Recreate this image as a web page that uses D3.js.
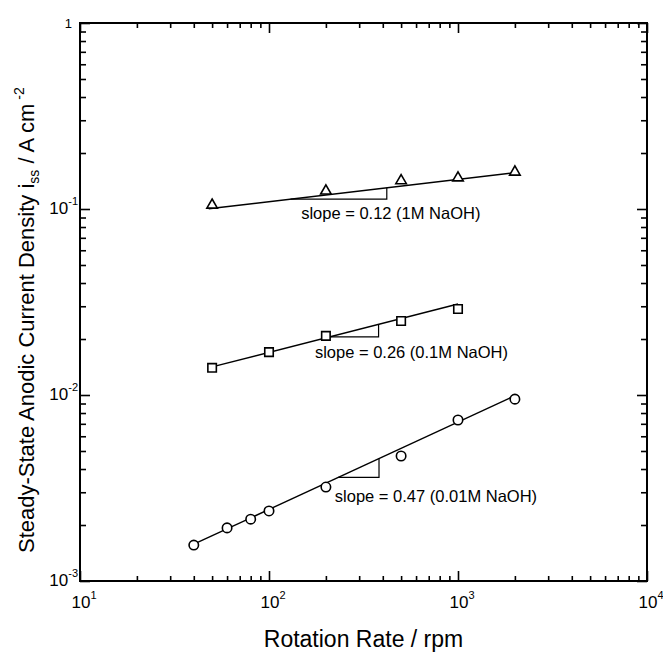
<!DOCTYPE html>
<html>
<head>
<meta charset="utf-8">
<script src="https://d3js.org/d3.v7.min.js"></script>
<style>
  body { margin: 0; background: #fff; }
  svg { display: block; font-family: "Liberation Sans", Arial, sans-serif; }
</style>
</head>
<body>
<svg id="chart" width="663" height="654"></svg>
<script>
const rpm_1M = [50, 200, 500, 1000, 2000];
const iss_1M = [0.105, 0.125, 0.142, 0.147, 0.158];
const rpm_01M = [50, 100, 200, 500, 1000];
const iss_01M = [0.0140, 0.0170, 0.0208, 0.0250, 0.0290];
const rpm_001M = [40, 60, 80, 100, 200, 500, 1000, 2000];
const iss_001M = [0.00156, 0.00193, 0.00215, 0.00238, 0.00320, 0.0047, 0.00734, 0.0095];

// power law fits: i = i200 * (rpm / 200) ^ slope
const fit_slopes = [0.12, 0.26, 0.47];
const fit_i200 = [0.119, 0.0203, 0.00336];
const fit_ranges = [[48, 2000], [50, 1000], [40, 2000]];
const slope_tri_rpm = [[130, 420], [210, 380], [232, 382]];
const slope_labels = ["slope = 0.12 (1M NaOH)", "slope = 0.26 (0.1M NaOH)", "slope = 0.47 (0.01M NaOH)"];
const slope_label_at = [[148, 0.0883], [175, 0.0158], [223, 0.00266]];

const x_tick_exps = [1, 2, 3, 4];
const y_tick_exps = [0, -1, -2, -3];

const W = 663, H = 654;
const margin = { left: 80, right: 16, top: 23, bottom: 73 };
const iw = W - margin.left - margin.right;
const ih = H - margin.top - margin.bottom;

const svg = d3.select("#chart");
const g = svg.append("g").attr("transform", "translate(" + margin.left + "," + margin.top + ")");

const x = d3.scaleLog().domain([10, 10000]).range([0, iw]);
const y = d3.scaleLog().domain([0.001, 1]).range([ih, 0]);

function minorTicks(lo, hi) {
  let out = [];
  for (let d = lo; d < hi; d *= 10) {
    for (let k = 2; k <= 9; k++) out.push(d * k);
  }
  return out;
}
const x_major = x_tick_exps.map(function(e) { return Math.pow(10, e); });
const y_major = y_tick_exps.map(function(e) { return Math.pow(10, e); });
const x_minor = minorTicks(10, 10000);
const y_minor = minorTicks(0.001, 1);

function drawTicks(axis, transform) {
  let a = g.append("g")
    .attr("transform", transform)
    .call(axis.tickFormat("").tickSizeOuter(0));
  a.select(".domain").remove();
  a.selectAll("line").attr("stroke", "#000").attr("stroke-width", 1.6);
  return a;
}

// inward ticks on all four sides
drawTicks(d3.axisBottom(x).tickValues(x_minor).tickSize(-5), "translate(0," + ih + ")");
drawTicks(d3.axisBottom(x).tickValues(x_major).tickSize(-10), "translate(0," + ih + ")");
drawTicks(d3.axisTop(x).tickValues(x_minor).tickSize(-5), "translate(0,0)");
drawTicks(d3.axisTop(x).tickValues(x_major).tickSize(-10), "translate(0,0)");
drawTicks(d3.axisLeft(y).tickValues(y_minor).tickSize(-6), "translate(0,0)");
drawTicks(d3.axisLeft(y).tickValues(y_major).tickSize(-10), "translate(0,0)");
drawTicks(d3.axisRight(y).tickValues(y_minor).tickSize(-6), "translate(" + iw + ",0)");
drawTicks(d3.axisRight(y).tickValues(y_major).tickSize(-10), "translate(" + iw + ",0)");

g.append("rect")
  .attr("x", 0).attr("y", 0)
  .attr("width", iw).attr("height", ih)
  .attr("fill", "none").attr("stroke", "#000").attr("stroke-width", 2);

// tick labels, 10 with superscript exponent
x_tick_exps.forEach(function(e) {
  let t = g.append("text")
    .attr("x", x(Math.pow(10, e)) + 4)
    .attr("y", ih + 27)
    .attr("text-anchor", "middle")
    .style("font-size", "17px");
  t.append("tspan").text("10");
  t.append("tspan").attr("dy", -9).style("font-size", "11px").text(e);
});

y_tick_exps.forEach(function(e) {
  let t = g.append("text")
    .attr("x", -2)
    .attr("y", y(Math.pow(10, e)) + 5)
    .attr("text-anchor", "end")
    .style("font-size", "17px");
  if (e === 0) {
    t.attr("x", -8).style("font-size", "13px").text("1");
    return;
  }
  t.append("tspan").text("10");
  t.append("tspan").attr("dy", -9).style("font-size", "11px").text(e);
});

// axis titles
svg.append("text")
  .attr("x", margin.left + iw / 2)
  .attr("y", 647)
  .attr("text-anchor", "middle")
  .style("font-size", "23px")
  .text("Rotation Rate / rpm");

let ytitle = svg.append("text")
  .attr("transform", "translate(34,553) rotate(-90)")
  .attr("text-anchor", "start")
  .style("font-size", "22px");
ytitle.append("tspan").text("Steady-State Anodic Current Density i");
ytitle.append("tspan").attr("dy", 5).style("font-size", "14px").text("ss");
ytitle.append("tspan").attr("dy", -5).text(" / A cm");
ytitle.append("tspan").attr("dy", -10).style("font-size", "14px").text(" -2");

// fit lines + slope triangles
function fitValue(i, r) {
  return fit_i200[i] * Math.pow(r / 200, fit_slopes[i]);
}
const line = d3.line()
  .x(function(d) { return x(d[0]); })
  .y(function(d) { return y(d[1]); });

fit_slopes.forEach(function(s, i) {
  let r0 = fit_ranges[i][0], r1 = fit_ranges[i][1];
  g.append("path")
    .attr("d", line([[r0, fitValue(i, r0)], [r1, fitValue(i, r1)]]))
    .attr("fill", "none")
    .attr("stroke", "#000")
    .attr("stroke-width", 1.4);

  let a = slope_tri_rpm[i][0], b = slope_tri_rpm[i][1];
  g.append("path")
    .attr("d", line([[a, fitValue(i, a)], [b, fitValue(i, a)], [b, fitValue(i, b)]]))
    .attr("fill", "none")
    .attr("stroke", "#000")
    .attr("stroke-width", 1.2);

  g.append("text")
    .attr("x", x(slope_label_at[i][0]))
    .attr("y", y(slope_label_at[i][1]))
    .style("font-size", "16.5px")
    .text(slope_labels[i]);
});

// markers
const series = [
  { rpm: rpm_1M, iss: iss_1M, shape: d3.symbolTriangle, size: 48 },
  { rpm: rpm_01M, iss: iss_01M, shape: d3.symbolSquare, size: 72 },
  { rpm: rpm_001M, iss: iss_001M, shape: d3.symbolCircle, size: 70 }
];
series.forEach(function(s) {
  g.append("g").selectAll("path")
    .data(d3.zip(s.rpm, s.iss))
    .enter()
    .append("path")
    .attr("transform", function(d) { return "translate(" + x(d[0]) + "," + y(d[1]) + ")"; })
    .attr("d", d3.symbol().type(s.shape).size(s.size))
    .attr("fill", "#fff")
    .attr("stroke", "#000")
    .attr("stroke-width", 1.6);
});
</script>
</body>
</html>
